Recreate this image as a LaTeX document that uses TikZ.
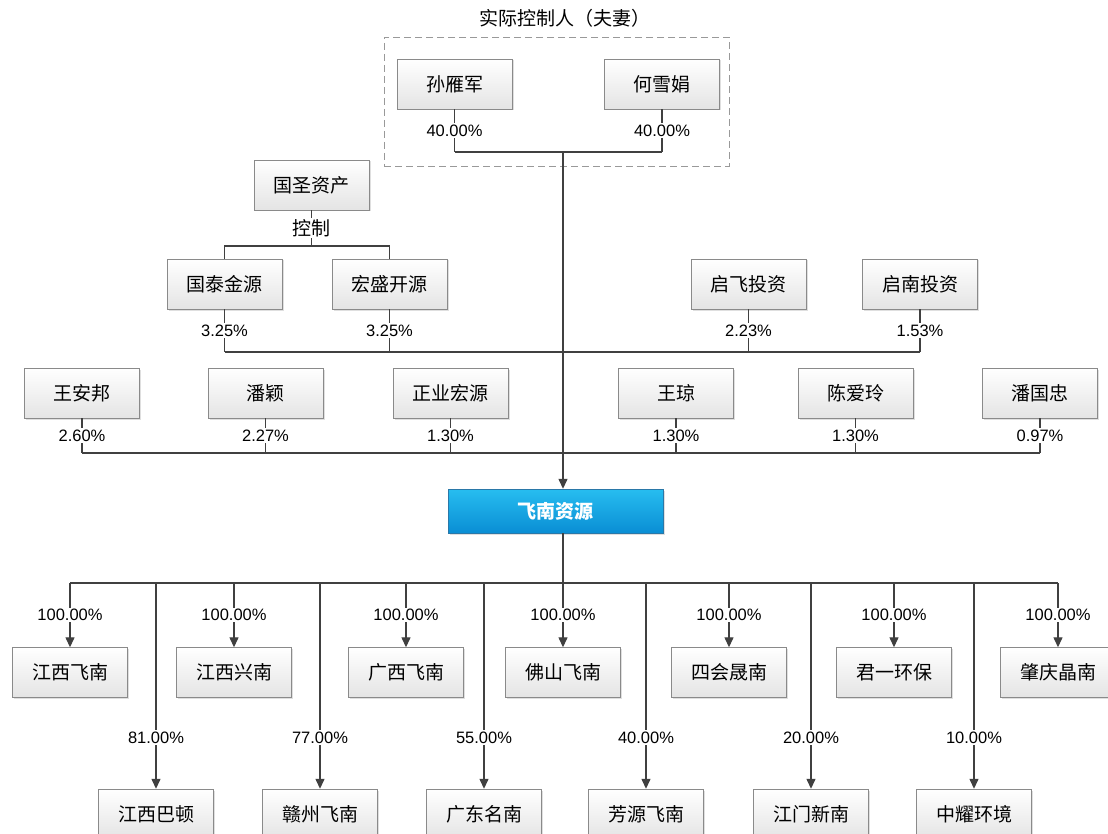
\documentclass[tikz,border=0pt]{standalone}
\usepackage{fontspec}
\newfontfamily\cjk{Noto Sans CJK SC}
\newfontfamily\numfont{Liberation Sans}
\usepackage{xcolor}
\usepackage{tikz}
\usetikzlibrary{positioning}
\usetikzlibrary{arrows.meta}
\usetikzlibrary{shadows}
\definecolor{linegray}{HTML}{404040}
\definecolor{boxgray}{HTML}{8A8A8A}
\definecolor{boxbottom}{HTML}{E4E4E4}
\definecolor{bluetop}{HTML}{27BDF0}
\definecolor{bluebottom}{HTML}{0A8ED4}
\definecolor{blueline}{HTML}{2A78A8}
\tikzset{
  box/.style={draw=boxgray, top color=white, bottom color=boxbottom, minimum width=115pt, minimum height=50pt, inner sep=0pt,
    font=\cjk\fontsize{19}{19}\selectfont, drop shadow={shadow xshift=1.5pt, shadow yshift=-1.5pt, opacity=0.25}},
  mainbox/.style={draw=blueline, top color=bluetop, bottom color=bluebottom, minimum width=215pt, minimum height=44pt, inner sep=0pt,
    text=white, font=\cjk\bfseries\fontsize{19}{19}\selectfont, drop shadow={shadow xshift=1.5pt, shadow yshift=-1.5pt, opacity=0.25}},
  pct/.style={fill=white, inner sep=1.5pt, font=\numfont\fontsize{16.5}{16.5}\selectfont},
  cjklabel/.style={fill=white, inner sep=1.5pt, font=\cjk\fontsize{19}{19}\selectfont},
  link/.style={draw=linegray, line width=1.3pt},
  arr/.style={link, -{Triangle[width=9pt,length=10pt]}},
}
\begin{document}
\begin{tikzpicture}[x=1pt, y=-1pt]
        \useasboundingbox (0,0) rectangle (1108,834);
        % actual controllers
        \node[draw=gray!80, dashed, dash pattern=on 7pt off 4pt, line width=0.9pt, minimum width=345pt, minimum height=129pt] (ctrl) at (556.5,101.5) {};
        \node[font=\cjk\fontsize{19}{19}\selectfont] (ctrltitle) at (565,18) {实际控制人（夫妻）};
        \node[box] (sun) at (454.5,84) {孙雁军};
        \node[box] (he) at (662,84) {何雪娟};
        \coordinate (jtop) at (563,152);
        % shareholders
        \node[box] (guosheng) at (311.5,185) {国圣资产};
        \coordinate (jgs) at (311.5,246);
        \node[box] (gtjy) at (224.5,284) {国泰金源};
        \node[box] (hskj) at (389.5,284) {宏盛开源};
        \node[box] (qifei) at (748.5,284) {启飞投资};
        \node[box] (qinan) at (920,284) {启南投资};
        \coordinate (jtwo) at (563,352);
        \node[box] (wab) at (82,393) {王安邦};
        \node[box] (panying) at (265.5,393) {潘颖};
        \node[box] (zyhy) at (450.5,393) {正业宏源};
        \node[box] (wangqiong) at (676,393) {王琼};
        \node[box] (chenal) at (855.5,393) {陈爱玲};
        \node[box] (pangz) at (1040,393) {潘国忠};
        \coordinate (jthree) at (563,453);
        % company
        \node[mainbox] (feinan) at (555.5,511) {飞南资源};
        \coordinate (bus) at (563,583);
        % subsidiaries
        \node[box] (jxfn) at (70,672.5) {江西飞南};
        \node[box] (jxxn) at (234,672.5) {江西兴南};
        \node[box] (gxfn) at (406,672.5) {广西飞南};
        \node[box] (fsfn) at (563,672.5) {佛山飞南};
        \node[box] (shsn) at (729,672.5) {四会晟南};
        \node[box] (jyhb) at (894,672.5) {君一环保};
        \node[box] (zqjn) at (1058,672.5) {肇庆晶南};
        \node[box] (jxbd) at (156,814) {江西巴顿};
        \node[box] (gzfn) at (320,814) {赣州飞南};
        \node[box] (gdmn) at (484,814) {广东名南};
        \node[box] (fyfn) at (646,814) {芳源飞南};
        \node[box] (jmxn) at (811,814) {江门新南};
        \node[box] (zyhj) at (974,814) {中耀环境};
        % arrows
        \draw[link] (sun.south) -- node[pct]{40.00\%} (sun.south |- jtop);
        \draw[link] (he.south) -- node[pct]{40.00\%} (he.south |- jtop);
        \draw[link] (sun.south |- jtop) -- (he.south |- jtop);
        \draw[arr] (jtop) -- (feinan.north -| jtop);
        \draw[link] (guosheng.south) -- node[cjklabel]{控制} (jgs);
        \draw[link] (gtjy.north) -- (gtjy.north |- jgs) -- (hskj.north |- jgs) -- (hskj.north);
        \draw[link] (gtjy.south) -- node[pct]{3.25\%} (gtjy.south |- jtwo);
        \draw[link] (hskj.south) -- node[pct]{3.25\%} (hskj.south |- jtwo);
        \draw[link] (qifei.south) -- node[pct]{2.23\%} (qifei.south |- jtwo);
        \draw[link] (qinan.south) -- node[pct]{1.53\%} (qinan.south |- jtwo);
        \draw[link] (gtjy.south |- jtwo) -- (qinan.south |- jtwo);
        \draw[link] (wab.south) -- node[pct]{2.60\%} (wab.south |- jthree);
        \draw[link] (panying.south) -- node[pct]{2.27\%} (panying.south |- jthree);
        \draw[link] (zyhy.south) -- node[pct]{1.30\%} (zyhy.south |- jthree);
        \draw[link] (wangqiong.south) -- node[pct]{1.30\%} (wangqiong.south |- jthree);
        \draw[link] (chenal.south) -- node[pct]{1.30\%} (chenal.south |- jthree);
        \draw[link] (pangz.south) -- node[pct]{0.97\%} (pangz.south |- jthree);
        \draw[link] (wab.south |- jthree) -- (pangz.south |- jthree);
        \draw[link] (feinan.south -| bus) -- (bus);
        \draw[link] (jxfn.north |- bus) -- (zqjn.north |- bus);
        \draw[arr] (jxfn.north |- bus) -- node[pct]{100.00\%} (jxfn.north);
        \draw[arr] (jxxn.north |- bus) -- node[pct]{100.00\%} (jxxn.north);
        \draw[arr] (gxfn.north |- bus) -- node[pct]{100.00\%} (gxfn.north);
        \draw[arr] (fsfn.north |- bus) -- node[pct]{100.00\%} (fsfn.north);
        \draw[arr] (shsn.north |- bus) -- node[pct]{100.00\%} (shsn.north);
        \draw[arr] (jyhb.north |- bus) -- node[pct]{100.00\%} (jyhb.north);
        \draw[arr] (zqjn.north |- bus) -- node[pct]{100.00\%} (zqjn.north);
        \draw[arr] (jxbd.north |- bus) -- node[pct, pos=0.75]{81.00\%} (jxbd.north);
        \draw[arr] (gzfn.north |- bus) -- node[pct, pos=0.75]{77.00\%} (gzfn.north);
        \draw[arr] (gdmn.north |- bus) -- node[pct, pos=0.75]{55.00\%} (gdmn.north);
        \draw[arr] (fyfn.north |- bus) -- node[pct, pos=0.75]{40.00\%} (fyfn.north);
        \draw[arr] (jmxn.north |- bus) -- node[pct, pos=0.75]{20.00\%} (jmxn.north);
        \draw[arr] (zyhj.north |- bus) -- node[pct, pos=0.75]{10.00\%} (zyhj.north);
    \end{tikzpicture}
\end{document}
